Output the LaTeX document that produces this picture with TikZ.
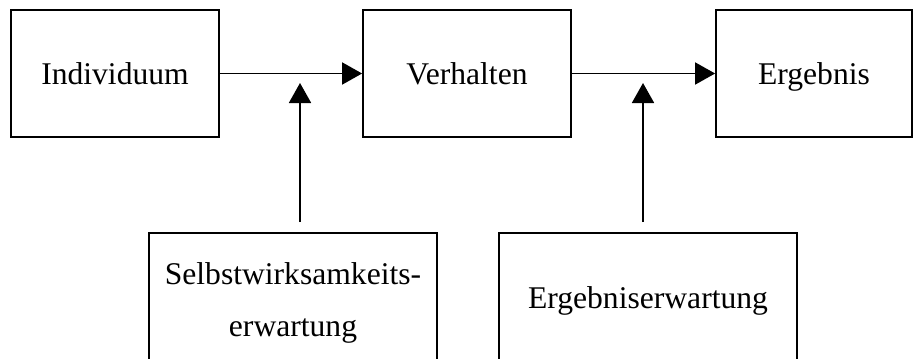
\documentclass[tikz,border=0pt]{standalone}
\usepackage{fontspec}
\setmainfont{Liberation Serif}
\usetikzlibrary{arrows.meta}

\begin{document}
\begin{tikzpicture}[
    x=.5pt, y=-.5pt,
    every node/.style={font=\fontsize{15.8}{26}\selectfont},
    block/.style={draw, line width=.9pt, inner sep=0pt, align=center},
    oneline/.style={text height=.75em, text depth=.22em},
    topline/.style={text height=1.25em, text depth=.2em},
    flow/.style={-{Triangle[length=10pt,width=11pt]}, line width=.9pt},
]
    \useasboundingbox (0,0) rectangle (913,358);

    % top row
    \node[block, topline, minimum width=104pt, minimum height=63.5pt] (ind) at (115,73.5) {Individuum};
    \node[block, topline, minimum width=104pt, minimum height=63.5pt] (verh) at (467,73.5) {Verhalten};
    \node[block, topline, minimum width=98pt, minimum height=63.5pt] (erg) at (814,73.5) {Ergebnis};

    % bottom row
    \node[block, minimum width=144pt, minimum height=70pt] (swe) at (293,303) {Selbstwirksamkeits-\\erwartung};
    \node[block, oneline, minimum width=149pt, minimum height=70pt] (ere) at (648,303) {Ergebniserwartung};

    \coordinate (m1) at (300,73.5);
    \coordinate (m2) at (643,73.5);

    \draw[flow] (ind) -- (verh);
    \draw[flow] (verh) -- (erg);
    \draw[flow, shorten <=5pt, shorten >=4.75pt] (swe.north -| m1) -- (m1);
    \draw[flow, shorten <=5pt, shorten >=4.75pt] (ere.north -| m2) -- (m2);

\end{tikzpicture}
\end{document}
